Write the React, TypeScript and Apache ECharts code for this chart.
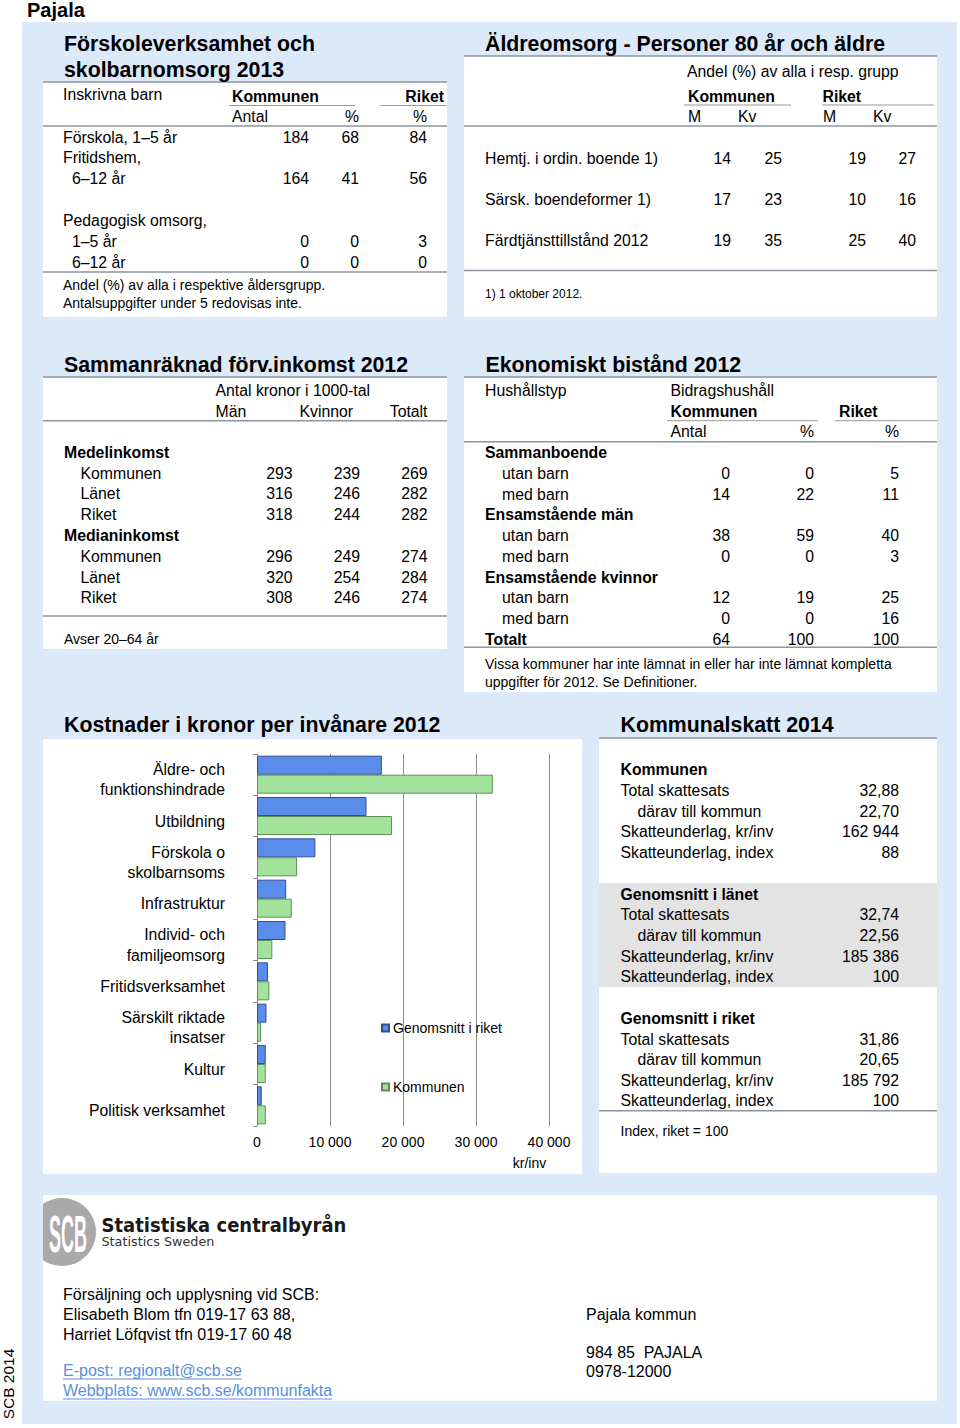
import React, { useEffect, useRef } from 'react';
import * as echarts from 'echarts';

// ---------------- data ----------------
const pageTitle = 'Pajala';

const preschoolTitle = ['Förskoleverksamhet och', 'skolbarnomsorg 2013'];
const preschoolLabels = ['Förskola, 1–5 år', 'Fritidshem,', '6–12 år', 'Pedagogisk omsorg,', '1–5 år', '6–12 år'];
const preschoolAntal = ['184', '', '164', '', '0', '0'];
const preschoolPct = ['68', '', '41', '', '0', '0'];
const preschoolRiket = ['84', '', '56', '', '3', '0'];
const preschoolNotes = ['Andel (%) av alla i respektive åldersgrupp.', 'Antalsuppgifter under 5 redovisas inte.'];

const elderTitle = 'Äldreomsorg - Personer 80 år och äldre';
const elderLabels = ['Hemtj. i ordin. boende 1)', 'Särsk. boendeformer 1)', 'Färdtjänsttillstånd 2012'];
const elderKomM = [14, 17, 19];
const elderKomKv = [25, 23, 35];
const elderRikM = [19, 10, 25];
const elderRikKv = [27, 16, 40];
const elderNote = '1) 1 oktober 2012.';

const incomeTitle = 'Sammanräknad förv.inkomst 2012';
const incomeLabels = ['Medelinkomst', 'Kommunen', 'Länet', 'Riket', 'Medianinkomst', 'Kommunen', 'Länet', 'Riket'];
const incomeMen = ['', '293', '316', '318', '', '296', '320', '308'];
const incomeWomen = ['', '239', '246', '244', '', '249', '254', '246'];
const incomeTotal = ['', '269', '282', '282', '', '274', '284', '274'];
const incomeNote = 'Avser 20–64 år';

const aidTitle = 'Ekonomiskt bistånd 2012';
const aidLabels = ['Sammanboende', 'utan barn', 'med barn', 'Ensamstående män', 'utan barn', 'med barn', 'Ensamstående kvinnor', 'utan barn', 'med barn', 'Totalt'];
const aidAntal = ['', '0', '14', '', '38', '0', '', '12', '0', '64'];
const aidPct = ['', '0', '22', '', '59', '0', '', '19', '0', '100'];
const aidRiket = ['', '5', '11', '', '40', '3', '', '25', '16', '100'];
const aidNotes = ['Vissa kommuner har inte lämnat in eller har inte lämnat kompletta', 'uppgifter för 2012. Se Definitioner.'];

const costTitle = 'Kostnader i kronor per invånare 2012';
const costCategories = [
  'Äldre- och\nfunktionshindrade',
  'Utbildning',
  'Förskola o\nskolbarnsoms',
  'Infrastruktur',
  'Individ- och\nfamiljeomsorg',
  'Fritidsverksamhet',
  'Särskilt riktade\ninsatser',
  'Kultur',
  'Politisk verksamhet',
];
const costRiket = [17100, 15000, 8000, 4000, 3900, 1500, 1300, 1200, 650];
const costKommun = [32300, 18500, 5500, 4750, 2100, 1700, 550, 1200, 1200];
const costUnit = 'kr/inv';

const taxTitle = 'Kommunalskatt 2014';
const taxGroups = ['Kommunen', 'Genomsnitt i länet', 'Genomsnitt i riket'];
const taxRowLabels = ['Total skattesats', 'därav till kommun', 'Skatteunderlag, kr/inv', 'Skatteunderlag, index'];
const taxKommun = ['32,88', '22,70', '162 944', '88'];
const taxLan = ['32,74', '22,56', '185 386', '100'];
const taxRiket = ['31,86', '20,65', '185 792', '100'];
const taxNote = 'Index, riket = 100';

const footerLeft = ['Försäljning och upplysning vid SCB:', 'Elisabeth Blom tfn 019-17 63 88,', 'Harriet Löfqvist tfn 019-17 60 48'];
const footerLinks = ['E-post: regionalt@scb.se', 'Webbplats: www.scb.se/kommunfakta'];
const footerRight = ['Pajala kommun', '984 85  PAJALA', '0978-12000'];
const logoTexts = ['SCB', 'Statistiska centralbyrån', 'Statistics Sweden'];
const sideLabel = 'SCB 2014';

// ---------------- helpers ----------------
const FF = '"Liberation Sans", Arial, Helvetica, sans-serif';
const BODY = 15.8;
const SMALL = 14;
const TITLE = 21.3;
const BLUE_BG = '#dce9f9';
const RULE = '#8d949e';

function measure(text: string, font: string): number {
  const c = document.createElement('canvas').getContext('2d');
  if (!c) return text.length * 8;
  c.font = font;
  return c.measureText(text).width;
}

function txt(text: string, x: number, y: number, o: any = {}) {
  const align = o.align || 'left';
  return {
    type: 'text',
    x,
    y,
    z: 50,
    rotation: o.rotation || 0,
    scaleX: o.scaleX || 1,
    style: {
      text,
      fill: o.color || '#000',
      fontSize: o.size || BODY,
      fontWeight: o.bold ? 'bold' : 'normal',
      fontFamily: o.family || FF,
      align,
      textAlign: align,
      verticalAlign: 'middle',
      textVerticalAlign: 'middle',
    },
  };
}
function rect(x: number, y: number, w: number, h: number, fill: string, z = -10) {
  return { type: 'rect', z, shape: { x, y, width: w, height: h }, style: { fill } };
}
function hline(x1: number, x2: number, y: number, stroke = RULE, lw = 1.5) {
  return { type: 'line', z: 20, shape: { x1, y1: y, x2, y2: y }, style: { stroke, lineWidth: lw } };
}

function buildGraphics(): any[] {
  const g: any[] = [];
  // backgrounds
  g.push(rect(22, 22, 935, 1402, BLUE_BG, -20));
  g.push(rect(43, 82, 404, 235, '#fff'));
  g.push(rect(464, 56, 473, 261, '#fff'));
  g.push(rect(43, 377, 404, 272, '#fff'));
  g.push(rect(464, 377, 473, 315, '#fff'));
  g.push(rect(43, 739, 539, 435, '#fff'));
  g.push(rect(599, 738, 338, 435, '#fff'));
  g.push(rect(599, 883, 338, 104, '#e3e3e3', -9));
  g.push(rect(43, 1195, 894, 206, '#fff'));

  g.push(txt(pageTitle, 27, 10, { bold: true, size: 20 }));

  // ---- Box A: preschool ----
  g.push(txt(preschoolTitle[0], 64, 44, { bold: true, size: TITLE }));
  g.push(txt(preschoolTitle[1], 64, 69.5, { bold: true, size: TITLE }));
  g.push(hline(43, 447, 82));
  g.push(txt('Inskrivna barn', 63, 94));
  g.push(txt('Kommunen', 232, 96, { bold: true }));
  g.push(hline(229, 355, 105.5, '#999', 1));
  g.push(txt('Riket', 444, 96, { bold: true, align: 'right' }));
  g.push(hline(380, 447, 105.5, '#999', 1));
  g.push(txt('Antal', 232, 116));
  g.push(txt('%', 359, 116, { align: 'right' }));
  g.push(txt('%', 427, 116, { align: 'right' }));
  g.push(hline(43, 447, 126));
  const aY = [137, 157.5, 178.5, 220.5, 241, 262];
  const aX = [63, 63, 72, 63, 72, 72];
  preschoolLabels.forEach((l, i) => {
    g.push(txt(l, aX[i], aY[i]));
    if (preschoolAntal[i]) g.push(txt(preschoolAntal[i], 309, aY[i], { align: 'right' }));
    if (preschoolPct[i]) g.push(txt(preschoolPct[i], 359, aY[i], { align: 'right' }));
    if (preschoolRiket[i]) g.push(txt(preschoolRiket[i], 427, aY[i], { align: 'right' }));
  });
  g.push(hline(43, 447, 272));
  g.push(txt(preschoolNotes[0], 63, 285, { size: SMALL }));
  g.push(txt(preschoolNotes[1], 63, 303, { size: SMALL }));

  // ---- Box B: elder care ----
  g.push(txt(elderTitle, 485, 44, { bold: true, size: TITLE }));
  g.push(hline(464, 937, 56));
  g.push(txt('Andel (%) av alla i resp. grupp', 687, 71.5));
  g.push(txt('Kommunen', 688, 96, { bold: true }));
  g.push(hline(684, 791, 105, '#999', 1));
  g.push(txt('Riket', 822.5, 96, { bold: true }));
  g.push(hline(822, 934, 105, '#999', 1));
  g.push(txt('M', 688, 116));
  g.push(txt('Kv', 738, 116));
  g.push(txt('M', 823, 116));
  g.push(txt('Kv', 873, 116));
  g.push(hline(464, 937, 126));
  const bY = [158, 199, 240.5];
  elderLabels.forEach((l, i) => {
    g.push(txt(l, 485, bY[i]));
    g.push(txt(String(elderKomM[i]), 731, bY[i], { align: 'right' }));
    g.push(txt(String(elderKomKv[i]), 782, bY[i], { align: 'right' }));
    g.push(txt(String(elderRikM[i]), 866, bY[i], { align: 'right' }));
    g.push(txt(String(elderRikKv[i]), 916, bY[i], { align: 'right' }));
  });
  g.push(hline(464, 937, 270.5));
  g.push(txt(elderNote, 485, 294, { size: 12 }));

  // ---- Box C: income ----
  g.push(txt(incomeTitle, 64, 364.5, { bold: true, size: TITLE }));
  g.push(hline(43, 447, 377));
  g.push(txt('Antal kronor i 1000-tal', 215.5, 390.5));
  g.push(txt('Män', 215.5, 411.5));
  g.push(txt('Kvinnor', 299.5, 411.5));
  g.push(txt('Totalt', 427.5, 411.5, { align: 'right' }));
  g.push(hline(43, 447, 420.7));
  const cY = [452.5, 473, 493.5, 514.5, 535.5, 556, 577, 597.5];
  incomeLabels.forEach((l, i) => {
    const head = !incomeMen[i];
    g.push(txt(l, head ? 64 : 80.5, cY[i], { bold: head }));
    if (incomeMen[i]) g.push(txt(incomeMen[i], 292.5, cY[i], { align: 'right' }));
    if (incomeWomen[i]) g.push(txt(incomeWomen[i], 360, cY[i], { align: 'right' }));
    if (incomeTotal[i]) g.push(txt(incomeTotal[i], 427.5, cY[i], { align: 'right' }));
  });
  g.push(hline(43, 447, 616));
  g.push(txt(incomeNote, 64, 638.7, { size: SMALL }));

  // ---- Box D: economic aid ----
  g.push(txt(aidTitle, 485.5, 364.5, { bold: true, size: TITLE }));
  g.push(hline(464, 937, 377));
  g.push(txt('Hushållstyp', 485, 390.7));
  g.push(txt('Bidragshushåll', 670.5, 390.7));
  g.push(txt('Kommunen', 670.5, 411.5, { bold: true }));
  g.push(hline(667, 818, 420.7, '#999', 1));
  g.push(txt('Riket', 839, 411.5, { bold: true }));
  g.push(hline(835, 937, 420.7, '#999', 1));
  g.push(txt('Antal', 670.5, 431.7));
  g.push(txt('%', 814, 431.7, { align: 'right' }));
  g.push(txt('%', 899, 431.7, { align: 'right' }));
  g.push(hline(464, 937, 441.7));
  const dY = [452.5, 473, 494, 514.5, 535.5, 556, 577, 597.5, 618.5, 639];
  aidLabels.forEach((l, i) => {
    const head = !aidAntal[i] || i === aidLabels.length - 1;
    g.push(txt(l, head ? 485 : 502, dY[i], { bold: head }));
    if (aidAntal[i]) g.push(txt(aidAntal[i], 730, dY[i], { align: 'right' }));
    if (aidPct[i]) g.push(txt(aidPct[i], 814, dY[i], { align: 'right' }));
    if (aidRiket[i]) g.push(txt(aidRiket[i], 899, dY[i], { align: 'right' }));
  });
  g.push(hline(464, 937, 647.3));
  g.push(txt(aidNotes[0], 485, 664, { size: SMALL }));
  g.push(txt(aidNotes[1], 485, 682, { size: SMALL }));

  // ---- Box E: costs (chart title + unit) ----
  g.push(txt(costTitle, 64, 725, { bold: true, size: TITLE }));
  g.push(txt(costUnit, 529.5, 1162.5, { size: SMALL, align: 'center' }));

  // ---- Box F: tax ----
  g.push(txt(taxTitle, 620.5, 724.5, { bold: true, size: TITLE }));
  g.push(hline(599, 937, 738));
  const taxVals = [taxKommun, taxLan, taxRiket];
  const fY = [
    [769, 790.5, 811, 831.5, 852.5],
    [894, 914.5, 935.5, 956, 976.5],
    [1018, 1039, 1059.5, 1080, 1100.5],
  ];
  taxGroups.forEach((grp, gi) => {
    g.push(txt(grp, 620.5, fY[gi][0], { bold: true }));
    taxRowLabels.forEach((l, ri) => {
      g.push(txt(l, ri === 1 ? 637.5 : 620.5, fY[gi][ri + 1]));
      g.push(txt(taxVals[gi][ri], 899, fY[gi][ri + 1], { align: 'right' }));
    });
  });
  g.push(hline(599, 937, 1110.7));
  g.push(txt(taxNote, 620.5, 1131, { size: SMALL }));

  // ---- Footer ----
  g.push({ type: 'circle', z: 5, shape: { cx: 62, cy: 1232, r: 34 }, style: { fill: '#a9a9a9' } });
  g.push(rect(22, 1190, 21, 80, BLUE_BG, 6));
  const scbW = measure(logoTexts[0], `bold 52px ${FF}`);
  g.push(txt(logoTexts[0], 68, 1234, { bold: true, size: 52, color: '#fff', align: 'center', scaleX: 38 / scbW }));
  const lw1 = measure(logoTexts[1], `bold 19px "DejaVu Sans"`);
  g.push(txt(logoTexts[1], 101.5, 1225, { bold: true, size: 19, family: '"DejaVu Sans", sans-serif', color: '#1a1a1a', scaleX: 245 / lw1 }));
  const lw2 = measure(logoTexts[2], `13px "DejaVu Sans"`);
  g.push(txt(logoTexts[2], 101.5, 1241, { size: 13, family: '"DejaVu Sans", sans-serif', color: '#333', scaleX: 113 / lw2 }));

  const flY = [1294.5, 1314.5, 1334];
  footerLeft.forEach((l, i) => g.push(txt(l, 63, flY[i], { size: 16 })));
  const linkY = [1370.5, 1390.5];
  footerLinks.forEach((l, i) => {
    g.push(txt(l, 63, linkY[i], { size: 16, color: '#5a8fdc' }));
    const w = measure(l, `16px ${FF}`);
    g.push(hline(63, 63 + w, linkY[i] + 8.5, '#5a8fdc', 1));
  });
  const frY = [1314.5, 1352, 1371];
  footerRight.forEach((l, i) => g.push(txt(l, 586, frY[i], { size: 16 })));

  g.push(txt(sideLabel, 8, 1384, { size: 15.5, align: 'center', rotation: Math.PI / 2 }));
  return g;
}

function fmtThousands(v: number): string {
  return String(v).replace(/\B(?=(\d{3})+(?!\d))/g, ' ');
}

// category label: a small spacer line on top shifts the text block a few px downward
function catLabel(v: string): string {
  return '{s| }\n' + v.split('\n').map((s) => `{t|${s}}`).join('\n');
}

export default function App() {
  const ref = useRef<HTMLDivElement>(null);
  useEffect(() => {
    if (!ref.current) return;
    const chart = echarts.init(ref.current, undefined, { renderer: 'svg' });
    chart.setOption({
      animation: false,
      backgroundColor: '#fff',
      textStyle: { fontFamily: FF },
      graphic: { elements: buildGraphics() },
      grid: { left: 257, top: 754, width: 292, height: 372, containLabel: false },
      legend: {
        orient: 'vertical',
        left: 381,
        top: 1021,
        padding: 0,
        itemWidth: 7,
        itemHeight: 7,
        itemGap: 45,
        icon: 'rect',
        textStyle: { fontSize: 14, color: '#000', fontFamily: FF, padding: [0, 0, 0, -1] },
        data: ['Genomsnitt i riket', 'Kommunen'],
      },
      xAxis: {
        type: 'value',
        min: 0,
        max: 40000,
        interval: 10000,
        axisLine: { show: false },
        axisTick: { show: false },
        splitLine: { show: true, lineStyle: { color: '#8c8c8c', width: 1 } },
        axisLabel: { color: '#000', fontSize: 14, margin: 9, formatter: (v: number) => fmtThousands(v) },
      },
      yAxis: {
        type: 'category',
        inverse: true,
        data: costCategories,
        axisLine: { show: true, lineStyle: { color: '#8c8c8c', width: 1 } },
        axisTick: { show: true, length: 4, lineStyle: { color: '#8c8c8c' } },
        axisLabel: {
          color: '#000',
          fontSize: BODY,
          margin: 32,
          align: 'right',
          formatter: catLabel,
          rich: {
            s: { fontSize: 2, lineHeight: 10 },
            t: { fontSize: BODY, lineHeight: 20.5, color: '#000', fontFamily: FF },
          },
        },
      },
      series: [
        {
          name: 'Genomsnitt i riket',
          type: 'bar',
          data: costRiket,
          barWidth: 19,
          barGap: '0%',
          itemStyle: { color: '#5a8cec', borderColor: '#2f4f8f', borderWidth: 1 },
        },
        {
          name: 'Kommunen',
          type: 'bar',
          data: costKommun,
          barWidth: 19,
          barGap: '0%',
          itemStyle: { color: '#a2e29a', borderColor: '#5e8f58', borderWidth: 1 },
        },
      ],
    });
    return () => chart.dispose();
  }, []);
  return (
    <div style={{ position: 'absolute', left: 0, top: 0, width: 960, height: 1428 }}>
      <div ref={ref} style={{ width: 960, height: 1428 }} />
    </div>
  );
}
